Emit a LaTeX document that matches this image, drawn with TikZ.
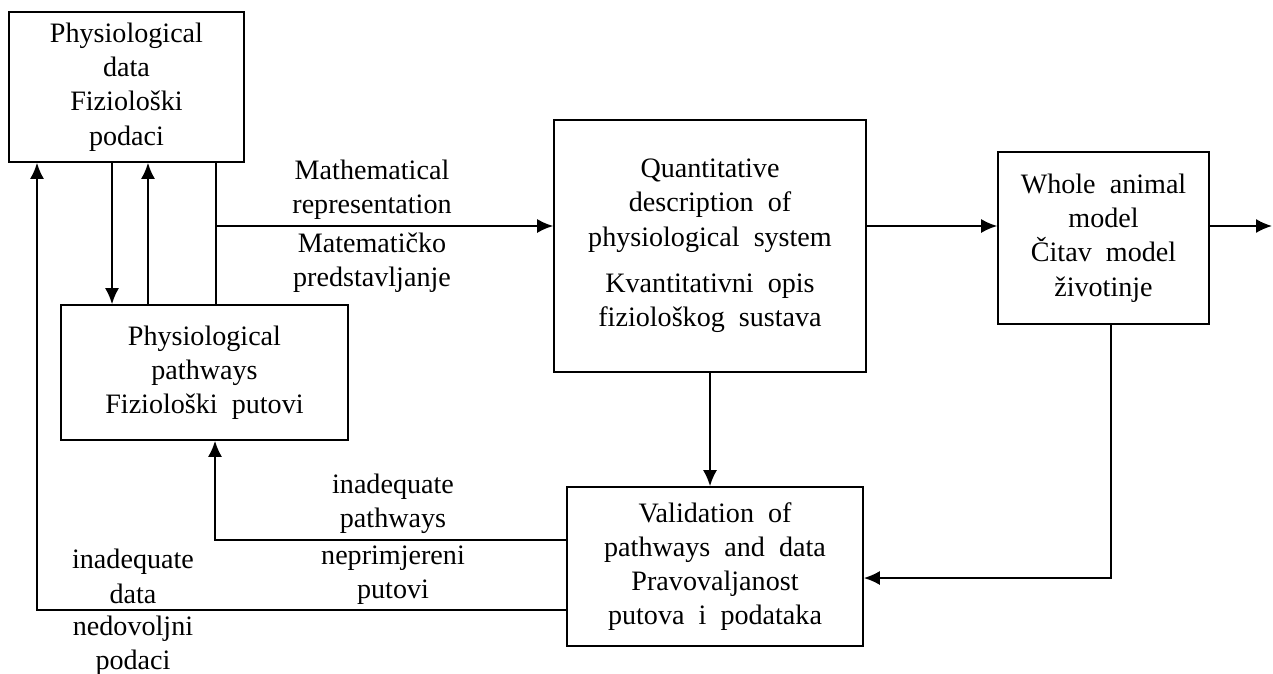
\documentclass[tikz,border=0pt]{standalone}
\usepackage{fontspec}
\setmainfont{Liberation Serif}
\usetikzlibrary{arrows.meta, positioning, calc}

\begin{document}
\begin{tikzpicture}[x=0.02cm, y=-0.02cm, line width=1pt,
    font=\fontsize{16}{19.5}\selectfont,
    blok/.style={draw=black, align=center, inner sep=0pt},
    lbl/.style={align=center, inner sep=1pt},
    arr/.style={-{Latex[length=3.2mm, width=2.8mm]}}]
      \useasboundingbox (0, 0) rectangle (1273, 673);

      \node[blok, minimum width=4.7cm, minimum height=3cm] (data) at (126.5, 87) {Physiological\\data\\Fiziološki\\podaci};
      \node[blok, minimum width=5.74cm, minimum height=2.7cm] (path) at (204.5, 372.5) {Physiological\\pathways\\Fiziološki\ \ putovi};
      \node[blok, minimum width=6.24cm, minimum height=5.04cm] (quant) at (710, 246) {Quantitative\\description\ \ of\\physiological\ \ system\\[7pt]Kvantitativni\ \ opis\\fiziološkog\ \ sustava};
      \node[blok, minimum width=4.22cm, minimum height=3.44cm] (whole) at (1103.5, 238) {Whole\ \ animal\\model\\Čitav\ \ model\\životinje};
      \node[blok, minimum width=5.92cm, minimum height=3.18cm] (valid) at (715, 566.5) {Validation\ \ of\\pathways\ \ and\ \ data\\Pravovaljanost\\putova\ \ i\ \ podataka};

      \coordinate (m) at (216, 226);
      \coordinate (out) at (1272, 226);
      \coordinate (fb) at (1111, 578);
      \coordinate (ip) at (215, 540);
      \coordinate (id) at (37, 610);

      % data <-> pathways
      \draw[arr] ([xshift=-0.29cm]data.south) -- ([xshift=-0.29cm]data.south |- path.north);
      \draw[arr] ([xshift=0.43cm]data.south |- path.north) -- ([xshift=0.43cm]data.south);
      \draw (m |- data.south) -- (m |- path.north);

      % main line
      \draw[arr] (m) -- (m -| quant.west);
      \draw[arr] (m -| quant.east) -- (m -| whole.west);
      \draw[arr] (m -| whole.east) -- (out);
      \draw[arr] (quant.south) -- (quant.south |- valid.north);

      % feedback
      \draw[arr] (fb |- whole.south) -- (fb) -- (fb -| valid.east);
      \draw[arr] (ip -| valid.west) -- (ip) -- (ip |- path.south);
      \draw[arr] (id -| valid.west) -- (id) -- (id |- data.south);

      \node[lbl, anchor=south] (mr) at (372, 222) {Mathematical\\representation};
      \node[lbl, anchor=north] (mp) at (372, 230) {Matematičko\\predstavljanje};
      \node[lbl, anchor=south] (ipa) at (393, 536) {inadequate\\pathways};
      \node[lbl, anchor=north] (ipb) at (393, 543) {neprimjereni\\putovi};
      \node[lbl, anchor=south] (ida) at (133, 606) {inadequate\\data};
      \node[lbl, anchor=north] (idb) at (133, 613) {nedovoljni\\podaci};
    \end{tikzpicture}
\end{document}
